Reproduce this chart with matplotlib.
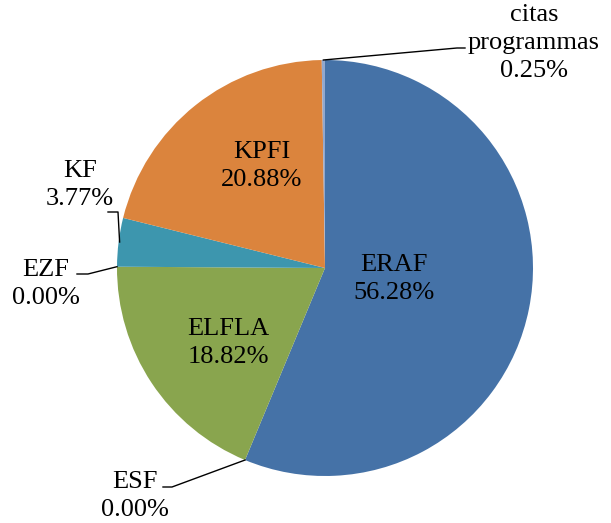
import matplotlib
matplotlib.use("Agg")
import matplotlib.pyplot as plt
import numpy as np

categories = ["ERAF", "ESF", "ELFLA", "EZF", "KF", "KPFI", "citas\nprogrammas"]
values = [56.28, 0.00, 18.82, 0.00, 3.77, 20.88, 0.25]
colors = ["#4572A7", "#AA4643", "#89A54E", "#80699B", "#3D96AE", "#DB843D", "#92A8CD"]

W, H = 611, 523
fig = plt.figure(figsize=(W / 100, H / 100), dpi=100)
ax = fig.add_axes([0, 0, 1, 1])

cx, cy, r = 325, H - 268, 208
plot_vals = [v if v > 0 else 1e-9 for v in values]
ax.pie(plot_vals, colors=colors, startangle=90, counterclock=False,
       center=(cx, cy), radius=r, frame=True,
       wedgeprops=dict(linewidth=0))
ax.set_xlim(0, W)
ax.set_ylim(0, H)
ax.set_aspect("equal")
ax.axis("off")

font = dict(family="Liberation Serif", fontsize=19, color="black", linespacing=1.38)

def label(i):
    return f"{categories[i]}\n{values[i]:.2f}%"

cum = np.cumsum([0] + values)
def anchor(i, frac=0.5):
    a = np.deg2rad(90 - 3.6 * (cum[i] + frac * values[i]))
    return cx + r * np.cos(a), cy + r * np.sin(a)

# inside labels
ax.text(394, H - 279, label(0), ha="center", va="center", **font)
ax.text(262, H - 166, label(5), ha="center", va="center", **font)
ax.text(228, H - 343, label(2), ha="center", va="center", **font)

# citas programmas
x0, y0 = anchor(6)
ax.plot([x0, 457, 465], [y0, H - 48, H - 48], color="black", lw=1)
ax.text(534, H - 43, label(6), ha="center", va="center", **font)

# KF
x0, y0 = anchor(4)
ax.plot([x0 + 1, 118, 108], [H - 242, H - 212, H - 212], color="black", lw=1)
ax.text(80, H - 185, label(4), ha="center", va="center", **font)

# EZF
x0, y0 = anchor(3)
ax.plot([x0, 88, 77], [y0, H - 274, H - 274], color="black", lw=1)
ax.text(46, H - 284, label(3), ha="center", va="center", **font)

# ESF
x0, y0 = anchor(1)
ax.plot([x0, 172, 163], [y0, H - 487, H - 487], color="black", lw=1)
ax.text(135, H - 496, label(1), ha="center", va="center", **font)

fig.savefig("out.png", dpi=100)
